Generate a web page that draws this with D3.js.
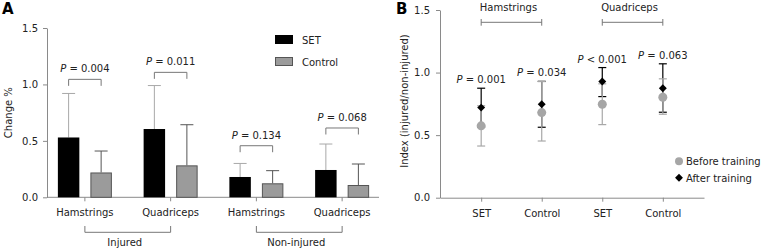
<!DOCTYPE html>
<html>
<head>
<meta charset="utf-8">
<script src="https://cdn.jsdelivr.net/npm/d3@7"></script>
<style>
  body { margin: 0; background: #fff; }
  svg { font-family: "DejaVu Sans", Verdana, sans-serif; font-size: 10px; }
  .axis path, .axis line { stroke: #8a8a8a; }
  .axis text { fill: #222; font-size: 10px; font-family: "DejaVu Sans", Verdana, sans-serif; }
</style>
</head>
<body>
<div id="chart"></div>
<script>
// Panel A data
const groupsA = ["inj-ham", "inj-quad", "non-ham", "non-quad"];
const groupLabelsA = ["Hamstrings", "Quadriceps", "Hamstrings", "Quadriceps"];
const seriesA = ["SET", "Control"];
const setMean = [0.53, 0.605, 0.18, 0.242];
const setErr = [0.92, 0.99, 0.30, 0.472];
const ctrlMean = [0.22, 0.283, 0.124, 0.109];
const ctrlErr = [0.41, 0.643, 0.236, 0.295];
const pLabelsA = ["0.004", "0.011", "0.134", "0.068"];
const pBracketA = [1.045, 1.107, 0.457, 0.614];
const sideGroups = [{name: "Injured", from: 0, to: 1}, {name: "Non-injured", from: 2, to: 3}];
const ticksY = [0, 0.5, 1.0, 1.5];

// Panel B data
const catsB = ["ham-set", "ham-ctrl", "quad-set", "quad-ctrl"];
const catLabelsB = ["SET", "Control", "SET", "Control"];
const beforeMean = [0.574, 0.68, 0.747, 0.803];
const beforeLo = [0.413, 0.453, 0.584, 0.667];
const beforeHi = [0.735, 0.928, 0.91, 0.95];
const afterMean = [0.72, 0.747, 0.928, 0.875];
const afterLo = [0.565, 0.563, 0.808, 0.683];
const afterHi = [0.875, 0.93, 1.04, 1.07];
const pLabelsB = ["P = 0.001", "P = 0.034", "P < 0.001", "P = 0.063"];
const topGroupsB = [{name: "Hamstrings", from: 0, to: 1}, {name: "Quadriceps", from: 2, to: 3}];

const svg = d3.select("#chart").append("svg")
    .attr("width", 764)
    .attr("height", 252);

// ---------- Panel A ----------
const yA = d3.scaleLinear().domain([0, 1.5]).range([197.3, 28]);
const xA = d3.scaleBand().domain(groupsA).range([42, 385]);
const xSub = d3.scaleBand().domain(seriesA).range([-27, 27]).paddingInner(0.34);
const cx = (i) => xA(groupsA[i]) + xA.bandwidth() / 2;
const barX = (i, s) => cx(i) + xSub(s);
const barC = (i, s) => barX(i, s) + xSub.bandwidth() / 2;

const gA = svg.append("g");

gA.append("text").attr("x", 2).attr("y", 14)
    .style("font-weight", "bold").style("font-size", "15px").text("A");

gA.append("g").attr("class", "axis")
    .attr("transform", "translate(47,0)")
    .call(d3.axisLeft(yA).tickValues(ticksY).tickFormat(d3.format(".1f")).tickSize(4).tickPadding(5).tickSizeOuter(0));

const xAxisA = gA.append("g").attr("class", "axis")
    .attr("transform", `translate(0,${yA(0)})`)
    .call(d3.axisBottom(xA).tickFormat((d, i) => groupLabelsA[i]).tickSize(4).tickPadding(8));
xAxisA.select(".domain").remove();
xAxisA.append("line").attr("x1", 47).attr("x2", 379).attr("stroke", "#8a8a8a");

gA.append("text")
    .attr("transform", `translate(12,${(yA(0) + yA(1.5)) / 2}) rotate(-90)`)
    .attr("text-anchor", "middle").attr("fill", "#222").text("Change %");

// error bars (up only)
function errUp(g, i, s, top, color) {
    const x = barC(i, s);
    g.append("line").attr("x1", x).attr("x2", x).attr("y1", yA(s === "SET" ? setMean[i] : ctrlMean[i])).attr("y2", yA(top)).attr("stroke", color);
    g.append("line").attr("x1", x - 6.5).attr("x2", x + 6.5).attr("y1", yA(top)).attr("y2", yA(top)).attr("stroke", color);
}
groupsA.forEach((g, i) => {
    errUp(gA, i, "SET", setErr[i], "#a8a8a8");
    errUp(gA, i, "Control", ctrlErr[i], "#555");
});

gA.selectAll(".barSet").data(setMean).enter().append("rect")
    .attr("x", (d, i) => barX(i, "SET"))
    .attr("y", d => yA(d))
    .attr("width", xSub.bandwidth())
    .attr("height", d => yA(0) - yA(d))
    .attr("fill", "#000");

gA.selectAll(".barCtrl").data(ctrlMean).enter().append("rect")
    .attr("x", (d, i) => barX(i, "Control") + 0.5)
    .attr("y", d => yA(d) + 0.5)
    .attr("width", xSub.bandwidth() - 1)
    .attr("height", d => yA(0) - yA(d) - 0.5)
    .attr("fill", "#9b9b9b").attr("stroke", "#555");

// P brackets
pBracketA.forEach((v, i) => {
    const x1 = barC(i, "SET"), x2 = barC(i, "Control"), y = yA(v);
    gA.append("path")
        .attr("d", `M${x1},${y + 6.5}V${y}H${x2}V${y + 6.5}`)
        .attr("fill", "none").attr("stroke", "#777");
    const t = gA.append("text").attr("x", (x1 + x2) / 2).attr("y", y - 7)
        .attr("text-anchor", "middle").attr("fill", "#222");
    t.append("tspan").style("font-style", "italic").text("P");
    t.append("tspan").text(" = " + pLabelsA[i]);
});

// side group brackets
sideGroups.forEach(s => {
    const x1 = cx(s.from), x2 = cx(s.to);
    gA.append("path").attr("d", `M${x1},226V232.3H${x2}V226`)
        .attr("fill", "none").attr("stroke", "#777");
    gA.append("text").attr("x", (x1 + x2) / 2 - 3).attr("y", 246)
        .attr("text-anchor", "middle").attr("fill", "#222").text(s.name);
});

// legend A
const legA = gA.append("g");
seriesA.forEach((s, i) => {
    legA.append("rect").attr("x", 275.5).attr("y", 35.5 + i * 22).attr("width", 17).attr("height", 8)
        .attr("fill", s === "SET" ? "#000" : "#9b9b9b").attr("stroke", s === "SET" ? "#000" : "#555");
    legA.append("text").attr("x", 302).attr("y", 43.5 + i * 22).attr("fill", "#222").text(s);
});

// ---------- Panel B ----------
const yB = d3.scaleLinear().domain([0, 1.5]).range([197.7, 10]);
const xB = d3.scalePoint().domain(catsB).range([440, 704]).padding(0.68);

const gB = svg.append("g");

gB.append("text").attr("x", 396).attr("y", 14)
    .style("font-weight", "bold").style("font-size", "15px").text("B");

gB.append("g").attr("class", "axis")
    .attr("transform", "translate(440,0)")
    .call(d3.axisLeft(yB).tickValues(ticksY).tickFormat(d3.format(".1f")).tickSize(4).tickPadding(6).tickSizeOuter(0));

gB.append("g").attr("class", "axis")
    .attr("transform", `translate(0,${yB(0)})`)
    .call(d3.axisBottom(xB).tickFormat((d, i) => catLabelsB[i]).tickSize(4).tickPadding(8).tickSizeOuter(0));

gB.append("text")
    .attr("transform", `translate(408,101) rotate(-90)`)
    .attr("text-anchor", "middle").attr("fill", "#222").text("Index (injured/non-injured)");

function errBar(g, x, lo, hi, color) {
    g.append("line").attr("x1", x).attr("x2", x).attr("y1", yB(lo)).attr("y2", yB(hi)).attr("stroke", color).attr("stroke-width", 1.2);
    [lo, hi].forEach(v => g.append("line").attr("x1", x - 4).attr("x2", x + 4)
        .attr("y1", yB(v)).attr("y2", yB(v)).attr("stroke", color).attr("stroke-width", 1.2));
}
catsB.forEach((c, i) => errBar(gB, xB(c), afterLo[i], afterHi[i], "#000"));
catsB.forEach((c, i) => errBar(gB, xB(c), beforeLo[i], beforeHi[i], "#a8a8a8"));

gB.selectAll(".before").data(beforeMean).enter().append("circle")
    .attr("cx", (d, i) => xB(catsB[i])).attr("cy", d => yB(d)).attr("r", 4.5)
    .attr("fill", "#a6a6a6");

const diamond = d3.symbol().type(d3.symbolDiamond2).size(40);
gB.selectAll(".after").data(afterMean).enter().append("path")
    .attr("d", diamond)
    .attr("transform", (d, i) => `translate(${xB(catsB[i])},${yB(d)})`)
    .attr("fill", "#000");

pLabelsB.forEach((p, i) => {
    const top = Math.max(beforeHi[i], afterHi[i]);
    const t = gB.append("text").attr("x", xB(catsB[i])).attr("y", yB(top) - 5)
        .attr("text-anchor", "middle").attr("fill", "#222");
    t.append("tspan").style("font-style", "italic").text(p.slice(0, 1));
    t.append("tspan").text(p.slice(1));
});

topGroupsB.forEach(s => {
    const x1 = xB(catsB[s.from]), x2 = xB(catsB[s.to]);
    gB.append("path").attr("d", `M${x1},19V25.7M${x1},22.3H${x2}M${x2},19V25.7`)
        .attr("fill", "none").attr("stroke", "#777");
    gB.append("text").attr("x", (x1 + x2) / 2 - 3).attr("y", 11)
        .attr("text-anchor", "middle").attr("fill", "#222").text(s.name);
});

// legend B
gB.append("circle").attr("cx", 679).attr("cy", 161.3).attr("r", 4).attr("fill", "#a6a6a6");
gB.append("text").attr("x", 686).attr("y", 165).attr("fill", "#222").text("Before training");
gB.append("path").attr("d", diamond).attr("transform", "translate(679,177.7)").attr("fill", "#000");
gB.append("text").attr("x", 686).attr("y", 181.5).attr("fill", "#222").text("After training");
</script>
</body>
</html>
